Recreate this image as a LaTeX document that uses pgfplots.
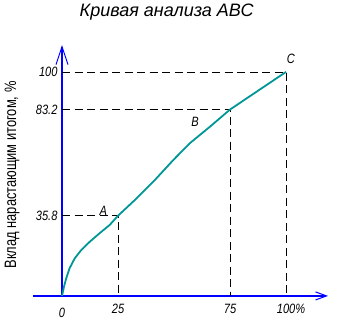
\documentclass[border=0pt]{standalone}
\usepackage{fontspec}
\setmainfont{Liberation Sans}
\newfontfamily\narrowit[FakeStretch=0.82,ItalicFont={Liberation Sans Italic}]{Liberation Sans}
\newfontfamily\narrowup[FakeStretch=0.78]{Liberation Sans}
\usepackage{pgfplots}
\pgfplotsset{compat=1.18}
\usetikzlibrary{arrows.meta}
\definecolor{curveteal}{RGB}{0,150,150}
\definecolor{axblue}{RGB}{0,0,255}
\begin{document}
\begin{tikzpicture}
\begin{axis}[
  x=2.24pt, y=2.24pt,
  xmin=-13, xmax=118.75, ymin=0, ymax=112,
  axis lines=middle,
  clip=false,
  enlargelimits=false,
  /pgf/number format/assume math mode=true,
  axis line style={axblue, line width=1.3pt},
  x axis line style={-{Straight Barb[length=11pt,width=8pt,line width=1pt]}},
  y axis line style={-{Straight Barb[length=18pt,width=12pt,line width=1pt]}},
  xtick={0,25,75,100},
  xticklabels={0,25,75,\hspace*{10pt}100\%},
  ytick={35.8,83.2,100},
  yticklabels={35.8,83.2,100},
  major tick length=0pt,
  xticklabel style={font=\narrowit\fontsize{13.5}{14}\selectfont\itshape, yshift=-4.5pt},
  yticklabel style={font=\narrowit\fontsize{13.5}{14}\selectfont\itshape, xshift=-1pt},
  extra x ticks={0},
  extra x tick labels={0},
  extra x tick style={xticklabel style={font=\narrowit\fontsize{13.5}{14}\selectfont\itshape, yshift=-4.5pt}},
]
\path (axis cs:-27.68,-13.84) rectangle (axis cs:123.2,132.1);
\addplot[black, line width=0.8pt, dash pattern=on 8pt off 4.5pt] coordinates {(0,100) (100,100) (100,0)};
\addplot[black, line width=0.8pt, dash pattern=on 8pt off 4.5pt] coordinates {(0,83.2) (75,83.2) (75,0)};
\addplot[black, line width=0.8pt, dash pattern=on 8pt off 4.5pt] coordinates {(0,35.8) (25,35.8) (25,0)};
\addplot[curveteal, line width=1.8pt, line join=round] coordinates {
(0,0) (0.9,4.2) (1.9,7.9) (3.4,12.4) (5.7,16.8) (8.6,20.5) (12.4,24.2)
(16.8,28.0) (21.3,31.7) (25,35.8) (32.6,42.9) (41.5,51.8) (49.7,60.7)
(57.1,68.2) (66.1,75.6) (75,83.2) (87.5,91.6) (100,100)};
\node[font=\narrowit\fontsize{13.5}{14}\selectfont\itshape] at (axis cs:18.4,37.8) {A};
\node[font=\narrowit\fontsize{13.5}{14}\selectfont\itshape] at (axis cs:59.4,77.6) {B};
\node[font=\narrowit\fontsize{13.5}{14}\selectfont\itshape] at (axis cs:102.2,105.9) {C};
\node[font=\fontsize{18}{20}\selectfont\itshape] at (axis cs:46.7,126.5) {Кривая анализа АВС};
\node[rotate=90, font=\narrowup\fontsize{16.5}{18}\selectfont] at (axis cs:-22.3,54.0) {Вклад нарастающим итогом, \%};
\end{axis}
\end{tikzpicture}
\end{document}
